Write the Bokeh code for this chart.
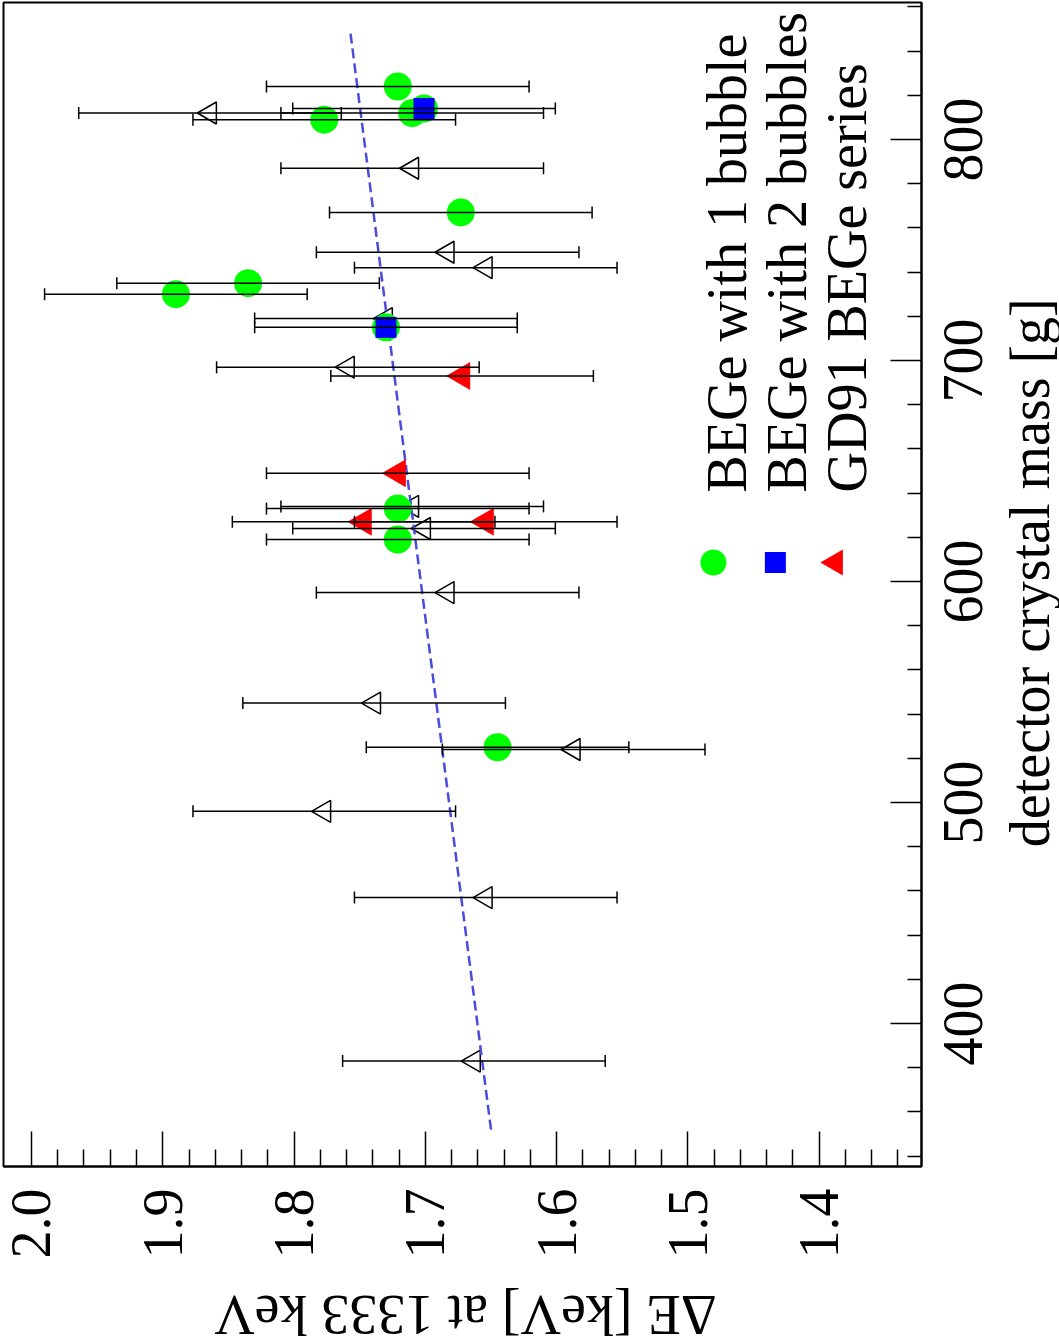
import math

from bokeh.core.properties import value
from bokeh.embed import file_html
from bokeh.layouts import column, row
from bokeh.models import (ColumnDataSource, CustomJSTickFormatter, FixedTicker,
                          NumeralTickFormatter, Range1d, TeeHead, Whisker)
from bokeh.plotting import figure
from bokeh.resources import INLINE

# ---- data -------------------------------------------------------------
# every detector of the series: crystal mass [g], resolution dE [keV] at 1333 keV, error
mass_all = [383, 457, 496, 524, 525, 545, 595, 619, 624, 627, 627, 633, 634, 649, 693,
            697, 715, 719, 730, 735, 742, 749, 767, 787, 809, 812, 812, 814, 824]
de_all = [1.663, 1.654, 1.777, 1.587, 1.645, 1.739, 1.683, 1.721, 1.701, 1.747, 1.654,
          1.721, 1.710, 1.721, 1.672, 1.759, 1.730, 1.730, 1.890, 1.835, 1.654, 1.683,
          1.673, 1.710, 1.777, 1.864, 1.710, 1.701, 1.721]
err_all = [0.1, 0.1, 0.1, 0.1, 0.1, 0.1, 0.1, 0.1, 0.1, 0.1, 0.1, 0.1, 0.1, 0.1, 0.1,
           0.1, 0.1, 0.1, 0.1, 0.1, 0.1, 0.1, 0.1, 0.1, 0.1, 0.1, 0.1, 0.1, 0.1]

# BEGe with 1 bubble
mass_b1 = [525, 619, 633, 715, 730, 735, 767, 809, 812, 814, 824]
de_b1 = [1.645, 1.721, 1.721, 1.730, 1.890, 1.835, 1.673, 1.777, 1.710, 1.701, 1.721]

# BEGe with 2 bubbles
mass_b2 = [715, 814]
de_b2 = [1.730, 1.701]

# GD91 BEGe series
mass_gd = [627, 627, 649, 693]
de_gd = [1.747, 1.654, 1.721, 1.672]

# linear fit through all detectors
fit_mass = [352, 848]
fit_de = [1.650, 1.757]

legend_labels = ["BEGe with 1 bubble", "BEGe with 2 bubbles", "GD91 BEGe series"]
x_title = "ΔE [keV] at 1333 keV"
y_title = "detector crystal mass [g]"

de_ticks = [1.4, 1.5, 1.6, 1.7, 1.8, 1.9, 2.0]
de_minor = [1.34, 1.36, 1.38, 1.42, 1.44, 1.46, 1.48, 1.52, 1.54, 1.56, 1.58,
            1.62, 1.64, 1.66, 1.68, 1.72, 1.74, 1.76, 1.78, 1.82, 1.84, 1.86, 1.88,
            1.92, 1.94, 1.96, 1.98]
mass_ticks = [400, 500, 600, 700, 800]
mass_minor = [340, 360, 380, 420, 440, 460, 480, 520, 540, 560, 580, 620, 640, 660,
              680, 720, 740, 760, 780, 820, 840, 860]

# ---- styling ----------------------------------------------------------
FONT = "Liberation Serif"
FS = "56px"
GREEN = "#00ff00"
BLUE = "#0000ff"
RED = "#ff0000"
FIT = "#4b4bdc"
ROT = math.pi / 2

MAIN_W, SIDE_W = 926, 133
MAIN_H, FOOT_H = 1280, 64
BORDER_TOP, BORDER_BOTTOM = 2, 114

mass_range = Range1d(335.3, 862)

# ---- main panel (turned a quarter turn: dE runs horizontally, mass vertically) ----
p = figure(width=MAIN_W, height=MAIN_H, output_backend="svg", toolbar_location=None,
           x_range=Range1d(2.0213, 1.3221), y_range=mass_range,
           y_axis_location="right",
           min_border_left=3, min_border_top=BORDER_TOP, min_border_right=5,
           min_border_bottom=BORDER_BOTTOM)
p.xgrid.visible = False
p.ygrid.visible = False
p.outline_line_color = "black"
p.outline_line_width = 2
p.background_fill_color = "white"
p.border_fill_color = "white"

xa = p.xaxis[0]
xa.ticker = FixedTicker(ticks=de_ticks, minor_ticks=de_minor)
xa.formatter = NumeralTickFormatter(format="0.0")
xa.major_tick_in = 35
xa.major_tick_out = 0
xa.minor_tick_in = 17
xa.minor_tick_out = 0
xa.major_label_standoff = 22
xa.major_label_orientation = ROT
xa.major_label_text_font = FONT
xa.major_label_text_font_size = FS
xa.major_label_text_color = "black"

ya = p.yaxis[0]
ya.ticker = FixedTicker(ticks=mass_ticks, minor_ticks=mass_minor)
ya.formatter = CustomJSTickFormatter(code="return ''")
ya.major_label_standoff = 0
ya.major_tick_in = 31
ya.major_tick_out = 0
ya.minor_tick_in = 14
ya.minor_tick_out = 0

for ax in (xa, ya):
    ax.axis_line_color = "black"
    ax.axis_line_width = 2
    ax.major_tick_line_color = "black"
    ax.minor_tick_line_color = "black"
    ax.major_tick_line_width = 1.5
    ax.minor_tick_line_width = 1.5

# ---- error bars and markers -------------------------------------------
lo = [d - e for d, e in zip(de_all, err_all)]
hi = [d + e for d, e in zip(de_all, err_all)]
src = ColumnDataSource(data=dict(mass=mass_all, de=de_all, lo=lo, hi=hi))

p.add_layout(Whisker(source=src, base="mass", lower="lo", upper="hi", dimension="width",
                     line_color="black", line_width=1.5, level="glyph",
                     lower_head=TeeHead(size=12, line_color="black", line_width=1.5),
                     upper_head=TeeHead(size=12, line_color="black", line_width=1.5)))

p.scatter(x="de", y="mass", source=src, marker="triangle", size=22, angle=ROT,
          fill_color="white", line_color="black", line_width=1.5)

p.line(fit_de, fit_mass, line_color=FIT, line_width=2.5, line_dash="10 5")

p.scatter(de_b1, mass_b1, marker="circle", size=28, fill_color=GREEN, line_color=None)
p.scatter(de_b2, mass_b2, marker="square", size=21, fill_color=BLUE, line_color=None)
p.scatter(de_gd, mass_gd, marker="triangle", size=28, angle=ROT,
          fill_color=RED, line_color=None)

# ---- legend, written along the mass axis --------------------------------
leg_de_marker = [1.4806, 1.4334, 1.3877]
leg_de_text = [1.4706, 1.4242, 1.3785]
leg_mass_marker = 608.6
leg_mass_text = 640.3

p.scatter([leg_de_marker[0]], [leg_mass_marker], marker="circle", size=26,
          fill_color=GREEN, line_color=None)
p.scatter([leg_de_marker[1]], [leg_mass_marker], marker="square", size=21,
          fill_color=BLUE, line_color=None)
p.scatter([leg_de_marker[2]], [leg_mass_marker], marker="triangle", size=26, angle=ROT,
          fill_color=RED, line_color=None)
p.text(x=leg_de_text, y=[leg_mass_text] * 3, text=legend_labels, angle=ROT,
       text_font=value(FONT), text_font_size=FS, text_color="black",
       text_align="left", text_baseline="middle")


def text_panel(width, height, x_range, y_range, **borders):
    """Blank panel (no axes, no outline) used for rotated labels."""
    f = figure(width=width, height=height, output_backend="svg", toolbar_location=None,
               x_range=x_range, y_range=y_range, x_axis_type=None, y_axis_type=None,
               min_border_left=0, min_border_right=0,
               min_border_top=borders.get("top", 0), min_border_bottom=borders.get("bottom", 0))
    f.xgrid.visible = False
    f.ygrid.visible = False
    f.outline_line_color = None
    f.background_fill_color = "white"
    f.border_fill_color = "white"
    return f


# ---- mass tick labels and mass title, sharing the mass scale -------------
side = text_panel(SIDE_W, MAIN_H, Range1d(MAIN_W, MAIN_W + SIDE_W), mass_range,
                  top=BORDER_TOP, bottom=BORDER_BOTTOM)
side.text(x=[962] * len(mass_ticks), y=mass_ticks, text=[str(m) for m in mass_ticks],
          angle=ROT, text_font=value(FONT), text_font_size=FS, text_color="black",
          text_align="center", text_baseline="middle")
side.text(x=[1029], y=[604], text=[y_title], angle=ROT,
          text_font=value(FONT), text_font_size=FS, text_color="black",
          text_align="center", text_baseline="middle")

# ---- dE title, upside down under the dE axis -------------------------------
foot = text_panel(MAIN_W + SIDE_W, FOOT_H, Range1d(0, MAIN_W + SIDE_W), Range1d(FOOT_H, 0))
foot.text(x=[465], y=[34], text=[x_title], angle=math.pi,
          text_font=value(FONT), text_font_size=FS, text_color="black",
          text_align="center", text_baseline="middle")

layout = column(row(p, side, spacing=0), foot, spacing=0)

open("out.html", "w").write(file_html(layout, INLINE))
